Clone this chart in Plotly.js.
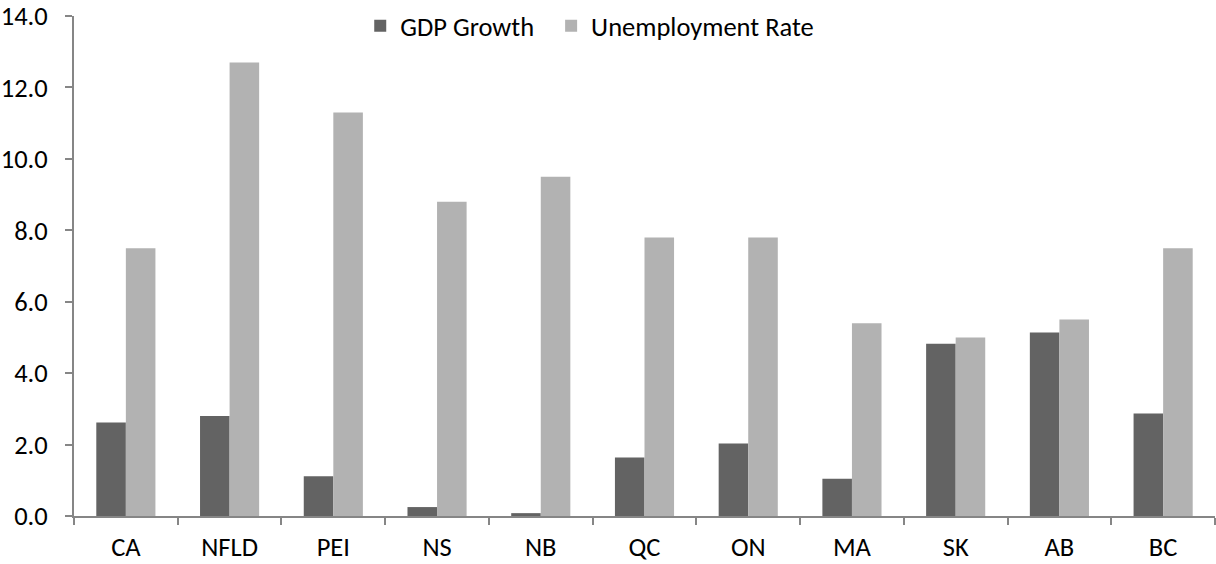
<!DOCTYPE html>
<html>
<head>
<meta charset="utf-8">
<script src="https://cdn.plot.ly/plotly-3.0.1.min.js"></script>
<style>html,body{margin:0;padding:0;background:#fff;}#chart{width:1216px;height:564px;}</style>
</head>
<body>
<div id="chart"></div>
<script>
const categories = ["CA","NFLD","PEI","NS","NB","QC","ON","MA","SK","AB","BC"];
const gdpGrowth = [2.62, 2.80, 1.11, 0.25, 0.08, 1.64, 2.03, 1.04, 4.82, 5.14, 2.87];
const unemploymentRate = [7.5, 12.7, 11.3, 8.8, 9.5, 7.8, 7.8, 5.4, 5.0, 5.5, 7.5];
const yTickVals = [0, 2, 4, 6, 8, 10, 12, 14];
const seriesNames = ["GDP Growth", "Unemployment Rate"];

const fontFam = "Carlito, Calibri, 'Open Sans', sans-serif";
const fs = 26.5;
const axisColor = "#868686";

const traces = [
  {type: "bar", name: seriesNames[0] + "\u00a0\u00a0", x: categories, y: gdpGrowth,
   marker: {color: "#636363"}},
  {type: "bar", name: seriesNames[1], x: categories, y: unemploymentRate,
   marker: {color: "#b2b2b2"}}
];

const layout = {
  width: 1216, height: 564,
  margin: {l: 74, r: 1, t: 16, b: 48},
  paper_bgcolor: "#fff", plot_bgcolor: "#fff",
  barmode: "group", bargap: 0.43, bargroupgap: 0,
  font: {family: fontFam, size: fs, color: "#000"},
  showlegend: true,
  legend: {orientation: "h", x: 0.452, xanchor: "center", y: 0.98, yanchor: "middle",
           font: {family: fontFam, size: fs, color: "#000"}, bgcolor: "rgba(0,0,0,0)",
           itemwidth: 30, tracegroupgap: 0},
  xaxis: {
    type: "category", showline: true, linecolor: axisColor, linewidth: 2,
    ticks: "outside", ticklen: 7, tickcolor: axisColor, tickwidth: 2,
    tickson: "boundaries", showgrid: false, zeroline: false,
    ticklabelstandoff: 6, ticklabeloverflow: "allow",
    tickfont: {family: fontFam, size: fs, color: "#000"}
  },
  yaxis: {
    range: [0, 14], tickvals: yTickVals, tickformat: ".1f",
    showline: true, linecolor: axisColor, linewidth: 2,
    ticks: "outside", ticklen: 7, tickcolor: axisColor, tickwidth: 2,
    showgrid: false, zeroline: false,
    ticklabelstandoff: 12, ticklabeloverflow: "allow",
    tickfont: {family: fontFam, size: fs, color: "#000"}
  }
};

Plotly.newPlot("chart", traces, layout, {displayModeBar: false, staticPlot: true});
</script>
</body>
</html>
